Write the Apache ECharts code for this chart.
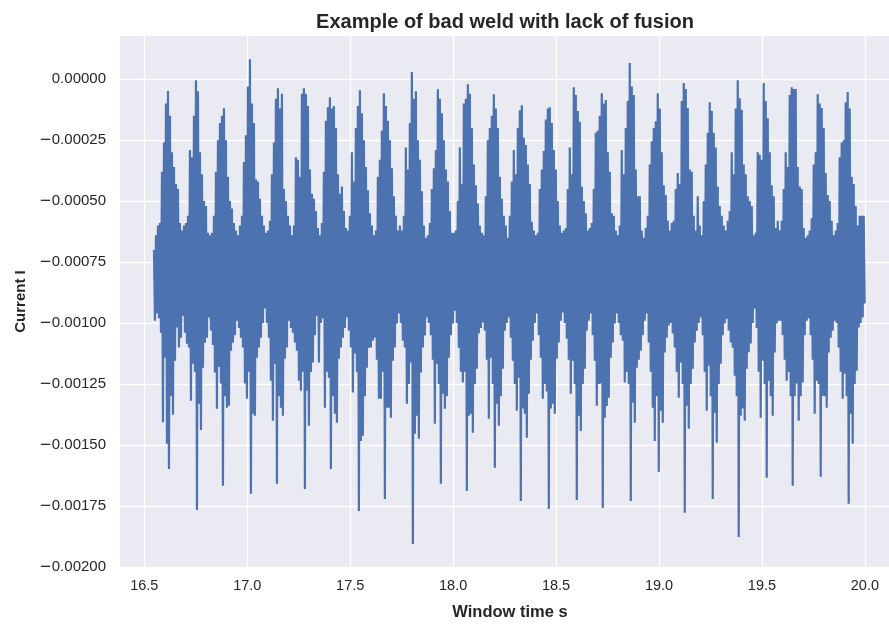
<!DOCTYPE html>
<html><head><meta charset="utf-8">
<script src="https://cdn.jsdelivr.net/npm/echarts@6/dist/echarts.min.js"></script>
<style>html,body{margin:0;padding:0;background:#fff}#c{width:889px;height:629px}</style>
</head><body><div id="c"></div>
<script>
// Sample grid of the window (seconds)
const sampleStart = 16.547;
const sampleStep = 0.00971;
// Current values are written in units of 1e-6
const valueUnit = 1e-6;
// Upper excursion of the signal in each sample slot (one line per weld pulse)
const highs = [
-700,-640,-600,-590,-380,-260,-100,-49,-150,-300,-360,-430,-450,-590,-620,
-600,-590,-560,-290,-320,-150,-4,-50,-300,-390,-500,-520,-630,
-640,-630,-560,-380,-250,-180,-150,-119,-250,-400,-500,-530,-590,-620,
-640,-600,-560,-340,-230,-30,82,-100,-180,-410,-420,-490,-560,-600,
-630,-620,-580,-390,-260,-80,-37,-120,-60,-450,-500,-560,-600,
-640,-600,-320,-330,-400,-60,-37,-60,-110,-370,-470,-490,-540,-610,
-640,-590,-380,-170,-115,-74,-120,-110,-200,-390,-470,-440,-540,-610,
-620,-560,-300,-420,-200,-110,-45,-140,-250,-360,-455,-550,-600,-640,
-620,-400,-330,-210,-58,-110,-170,-250,-365,-480,-560,-620,
-600,-620,-560,-280,-370,-180,29,-80,-50,-250,-330,-460,-600,-650,
-640,-590,-450,-365,-290,-41,-80,-140,-250,-370,-420,-540,-630,
-630,-620,-500,-280,-430,-100,-80,-21,-60,-200,-350,-435,-510,-600,
-630,-640,-480,-250,-200,-150,-62,-120,-200,-400,-490,-560,-600,-650,
-560,-420,-290,-390,-200,-127,-107,-240,-270,-350,-430,-585,-620,
-640,-630,-450,-370,-295,-165,-120,-115,-180,-290,-370,-500,-600,-630,
-620,-610,-450,-280,-390,-33,-65,-130,-175,-440,-500,-550,-620,
-610,-590,-450,-220,-210,-150,-58,-100,-85,-300,-380,-550,-560,-620,-640,
-600,-290,-390,-200,-90,66,-30,-65,-370,-480,-480,-620,-650,
-610,-560,-350,-255,-200,-173,-58,-120,-300,-435,-475,-580,-620,
-590,-580,-450,-385,-430,-90,-16,-40,-118,-370,-380,-560,-620,-480,-600,-640,
-500,-350,-220,-95,-130,-220,-280,-440,-520,-560,-600,-620,
-580,-540,-300,-390,-120,-4,-78,-125,-350,-390,-480,-500,-520,-640,
-630,-300,-310,-330,-16,-90,-160,-300,-435,-480,-610,-580,
-620,-580,-450,-300,-360,-65,-33,-40,-40,-360,-440,-450,-610,-650,
-640,-620,-570,-350,-300,-62,-100,-118,-200,-385,-475,-500,-580,-640,
-620,-590,-320,-260,-250,-95,-53,-120,-400,-430,-520,-600,-560,-560,-560
];
// Lower excursion of the signal in each sample slot
const lows = [
-990,-960,-980,-1040,-1407,-1142,-1495,-1598,-1298,-1376,-1154,-1018,-1100,-1060,-970,
-1040,-1085,-1100,-1318,-1167,-1200,-1766,-1331,-1438,-1183,-1081,-1060,-977,
-1030,-1090,-1203,-1351,-1180,-1248,-1667,-1300,-1347,-1339,-1113,-1081,-1050,-990,
-1020,-1060,-1100,-1248,-1310,-1200,-1700,-1372,-1380,-1142,-1100,-1060,-1000,-940,
-1000,-1060,-1236,-1400,-1167,-1659,-1300,-1347,-1380,-1146,-1100,-990,-1020,
-1040,-1080,-1113,-1236,-1277,-1200,-1680,-1277,-1421,-1200,-1162,-1050,-970,-1162,
-1000,-980,-1347,-1200,-1224,-1598,-1300,-1372,-1409,-1146,-1100,-1060,-1020,-977,
-1030,-1100,-1285,-1125,-1200,-1770,-1483,-1462,-1300,-1183,-1101,-1100,-1072,-1060,
-1150,-1310,-1310,-1200,-1721,-1347,-1347,-1388,-1154,-1100,-1002,-961,
-1000,-1072,-1100,-1331,-1250,-1162,-1906,-1454,-1380,-1474,-1203,-1100,-1051,-977,
-1000,-1050,-1150,-1413,-1167,-1250,-1659,-1290,-1351,-1300,-1142,-1050,-1002,
-949,-1000,-1101,-1200,-1244,-1200,-1688,-1380,-1372,-1450,-1250,-1187,-1043,-1020,
-998,-1030,-1150,-1392,-1142,-1250,-1593,-1331,-1421,-1300,-1187,-1031,-1000,-977,
-1060,-1154,-1250,-1359,-1224,-1729,-1350,-1372,-1470,-1290,-1150,-1072,-1000,
-961,-1050,-1142,-1310,-1250,-1280,-1762,-1350,-1331,-1372,-1146,-1080,-990,-957,
-1000,-1064,-1150,-1290,-1154,-1250,-1725,-1380,-1442,-1250,-1187,-1031,-990,
-961,-1050,-1154,-1339,-1250,-1248,-1758,-1388,-1340,-1306,-1142,-1080,-1002,-961,-1000,
-1050,-1072,-1244,-1200,-1250,-1729,-1327,-1409,-1183,-1150,-1113,-1050,-990,
-961,-1080,-1200,-1347,-1483,-1300,-1610,-1359,-1409,-1121,-1060,-1010,-1000,
-1043,-1100,-1200,-1306,-1162,-1250,-1778,-1339,-1433,-1250,-1187,-1080,-1031,-1000,-977,-1050,
-1200,-1359,-1175,-1300,-1721,-1368,-1491,-1250,-1167,-1050,-1002,-982,
-1030,-1080,-1101,-1216,-1300,-1877,-1380,-1350,-1400,-1187,-1120,-1084,-1000,-940,
-1020,-1200,-1388,-1154,-1250,-1634,-1236,-1300,-1380,-1121,-1002,-990,
-990,-1050,-1150,-1236,-1200,-1300,-1667,-1300,-1248,-1400,-1300,-1244,-1050,-990,
-980,-1050,-1150,-1372,-1236,-1250,-1630,-1298,-1300,-1347,-1121,-1060,-1031,-990,
-1000,-1100,-1200,-1310,-1208,-1300,-1741,-1372,-1495,-1250,-1195,-1018,-1000,-977,-920
];
const titleText = 'Example of bad weld with lack of fusion';
const xName = 'Window time s';
const yName = 'Current I';

const points = [];
for (let i = 0; i < highs.length; i++) {
  const t = sampleStart + i * sampleStep;
  points.push([t, highs[i] * valueUnit]);
  points.push([t + sampleStep / 2, lows[i] * valueUnit]);
}

const FONT = '"Liberation Sans", Arial, sans-serif';
const TXT = '#262626';
const chart = echarts.init(document.getElementById('c'), null, {renderer: 'canvas'});
chart.setOption({
  animation: false,
  backgroundColor: '#ffffff',
  title: {
    text: titleText, left: 500, top: 7, textAlign: 'center',
    textStyle: {fontFamily: FONT, fontSize: 20, fontWeight: 'bold', color: TXT}
  },
  grid: {left: 120, right: 0, top: 36, bottom: 62, show: true, backgroundColor: '#EAEAF2', borderWidth: 0},
  xAxis: {
    type: 'value', min: 16.382, max: 20.117, splitNumber: 8,
    name: xName, nameLocation: 'middle', nameGap: 37,
    nameTextStyle: {fontFamily: FONT, fontSize: 16.5, fontWeight: 'bold', color: TXT, padding: [0, 0, 0, 11]},
    axisLine: {show: false}, axisTick: {show: false},
    axisLabel: {showMinLabel: false, showMaxLabel: false, margin: 11, fontFamily: FONT, fontSize: 14.5, color: TXT,
      formatter: v => v.toFixed(1)},
    splitLine: {show: true, showMinLine: false, showMaxLine: false, lineStyle: {color: '#ffffff', width: 1.3}}
  },
  yAxis: {
    type: 'value', min: -0.002, max: 0.000177, interval: 0.00025,
    name: yName, nameLocation: 'middle', nameGap: 90,
    nameTextStyle: {fontFamily: FONT, fontSize: 15, fontWeight: 'bold', color: TXT},
    axisLine: {show: false}, axisTick: {show: false},
    axisLabel: {showMaxLabel: false, margin: 14, fontFamily: FONT, fontSize: 15, color: TXT,
      formatter: v => Math.abs(v) < 1e-9 ? '0.00000' : (v < 0 ? '{m|\u2212}' : '') + Math.abs(v).toFixed(5),
      rich: {m: {fontFamily: '"DejaVu Sans", sans-serif', fontSize: 15, color: TXT}}},
    splitLine: {show: true, showMaxLine: false, lineStyle: {color: '#ffffff', width: 1.3}}
  },
  series: [{
    type: 'line', data: points, showSymbol: false, symbol: 'none', sampling: 'none',
    lineStyle: {color: '#4C72B0', width: 2.2, join: 'miter'}, itemStyle: {color: '#4C72B0'}
  }]
});
</script></body></html>
